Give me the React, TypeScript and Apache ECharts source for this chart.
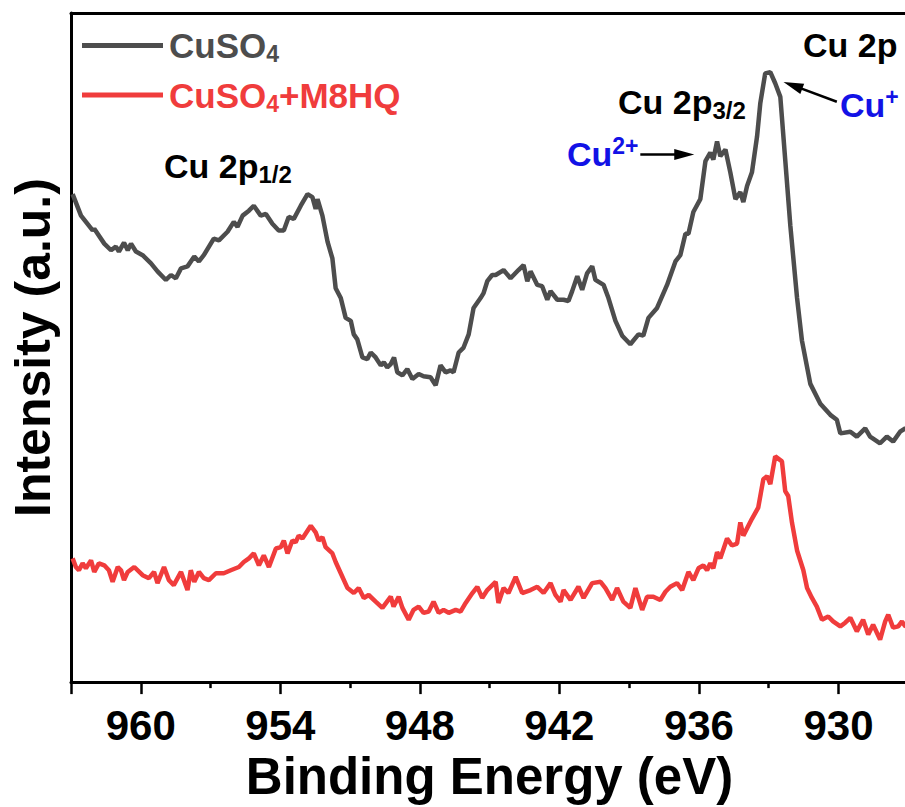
import React, { useEffect, useRef } from "react";
import * as echarts from "echarts";

// Cu 2p XPS spectra: [binding energy (eV), intensity (a.u.)]
const cuso4: [number, number][] = [
  [962.93, 4930], [962.57, 4713], [962.07, 4563], [962.0, 4580], [961.57, 4430], [961.28, 4363],
  [961.07, 4400], [960.94, 4350], [960.72, 4440], [960.56, 4363], [960.42, 4430], [960.21, 4350],
  [959.92, 4313], [959.56, 4230], [959.28, 4150], [958.92, 4063], [958.7, 4113], [958.49, 4080],
  [958.27, 4180], [957.99, 4200], [957.7, 4300], [957.5, 4250], [957.29, 4313], [956.86, 4480],
  [956.64, 4463], [956.27, 4550], [956.0, 4650], [955.84, 4600], [955.62, 4713], [955.35, 4763],
  [955.14, 4813], [954.84, 4713], [954.62, 4730], [954.34, 4630], [954.07, 4563], [953.85, 4563],
  [953.64, 4700], [953.42, 4680], [953.12, 4813], [952.83, 4930], [952.62, 4900], [952.48, 4780],
  [952.4, 4880], [952.19, 4713], [951.97, 4450], [951.76, 4280], [951.62, 3980], [951.4, 3880],
  [951.19, 3680], [950.97, 3650], [950.84, 3513], [950.69, 3463], [950.47, 3280], [950.26, 3263],
  [950.11, 3330], [949.9, 3280], [949.68, 3200], [949.55, 3230], [949.4, 3180], [949.25, 3213],
  [949.11, 3280], [948.97, 3130], [948.75, 3100], [948.54, 3163], [948.32, 3063], [948.05, 3113],
  [947.84, 3090], [947.54, 3080], [947.32, 3000], [947.11, 3200], [946.89, 3130], [946.68, 3150],
  [946.55, 3130], [946.33, 3330], [946.12, 3380], [945.9, 3513], [945.69, 3780], [945.39, 3880],
  [945.26, 3930], [945.1, 4050], [944.89, 4113], [944.74, 4113], [944.4, 4163], [944.1, 4080],
  [943.76, 4163], [943.54, 4213], [943.38, 4050], [943.24, 4150], [942.95, 4013], [942.74, 4000],
  [942.52, 3863], [942.38, 3950], [942.09, 3863], [941.82, 3863], [941.61, 3850], [941.45, 3950],
  [941.23, 4100], [941.02, 3963], [940.81, 4130], [940.59, 4200], [940.45, 4063], [940.1, 4013],
  [939.89, 3880], [939.59, 3650], [939.3, 3500], [938.95, 3413], [938.6, 3513], [938.39, 3500],
  [938.17, 3680], [937.8, 3780], [937.37, 4013], [937.01, 4250], [936.8, 4313], [936.58, 4530],
  [936.45, 4530], [936.24, 4750], [935.94, 4880], [935.72, 5263], [935.51, 5350], [935.38, 5280],
  [935.22, 5463], [935.08, 5313], [934.86, 5380], [934.65, 5150], [934.43, 4880], [934.22, 4950],
  [934.09, 4850], [933.93, 5013], [933.72, 5150], [933.5, 5513], [933.36, 5850], [933.15, 6150],
  [932.93, 6163], [932.72, 6050], [932.5, 5913], [932.29, 5280], [932.07, 4613], [931.78, 3880],
  [931.57, 3450], [931.21, 3013], [930.78, 2813], [930.35, 2700], [930.07, 2650], [929.92, 2513],
  [929.49, 2530], [929.21, 2480], [928.85, 2563], [928.64, 2480], [928.21, 2413], [927.92, 2480],
  [927.65, 2430], [927.35, 2530], [927.13, 2563], [926.8, 2540], [926.4, 2500],
];

const cuso4M8hq: [number, number][] = [
  [962.93, 1250], [962.79, 1163], [962.66, 1130], [962.5, 1200], [962.36, 1150], [962.14, 1230],
  [962.0, 1113], [961.8, 1200], [961.57, 1180], [961.37, 1130], [961.21, 1013], [960.99, 1163],
  [960.85, 1130], [960.72, 1030], [960.56, 1113], [960.28, 1163], [959.92, 1080], [959.65, 1050],
  [959.43, 1113], [959.28, 1000], [959.0, 1163], [958.79, 1030], [958.58, 980], [958.27, 1113],
  [957.99, 930], [957.85, 1130], [957.7, 1013], [957.5, 1113], [957.29, 1050], [957.07, 1030],
  [956.77, 1100], [956.43, 1100], [956.13, 1130], [955.78, 1163], [955.57, 1213], [955.35, 1250],
  [955.14, 1300], [954.92, 1180], [954.71, 1280], [954.49, 1163], [954.19, 1350], [953.98, 1363],
  [953.85, 1430], [953.69, 1300], [953.48, 1430], [953.34, 1413], [953.21, 1480], [953.05, 1450],
  [952.69, 1580], [952.48, 1513], [952.35, 1430], [952.19, 1463], [952.05, 1363], [951.76, 1300],
  [951.62, 1213], [951.4, 1100], [951.11, 950], [950.84, 900], [950.63, 950], [950.41, 850],
  [950.2, 880], [949.9, 813], [949.61, 750], [949.25, 863], [949.13, 763], [948.91, 863],
  [948.75, 750], [948.48, 630], [948.27, 730], [948.05, 763], [947.84, 700], [947.62, 713],
  [947.41, 813], [947.19, 700], [946.98, 730], [946.76, 700], [946.46, 730], [946.25, 713],
  [946.03, 800], [945.74, 900], [945.53, 963], [945.32, 850], [945.1, 930], [944.74, 1013],
  [944.62, 800], [944.4, 950], [944.19, 900], [943.88, 1063], [943.6, 900], [943.24, 930],
  [942.95, 963], [942.68, 900], [942.38, 1000], [942.17, 880], [941.95, 813], [941.82, 930],
  [941.52, 830], [941.18, 963], [940.96, 850], [940.59, 1000], [940.23, 1013], [940.02, 950],
  [939.73, 830], [939.52, 950], [939.25, 813], [938.95, 750], [938.73, 950], [938.44, 730],
  [938.23, 863], [937.96, 863], [937.66, 830], [937.44, 913], [937.23, 963], [936.94, 1000],
  [936.72, 930], [936.45, 1113], [936.24, 1030], [936.02, 1150], [935.81, 1180], [935.65, 1130],
  [935.51, 1200], [935.38, 1150], [935.22, 1313], [935.08, 1250], [934.79, 1450], [934.58, 1380],
  [934.36, 1400], [934.22, 1613], [934.09, 1480], [933.72, 1650], [933.45, 1763], [933.23, 2050],
  [933.07, 2080], [932.93, 2000], [932.72, 2280], [932.43, 2230], [932.29, 1930], [932.16, 1880],
  [932.0, 1613], [931.78, 1330], [931.51, 1130], [931.35, 950], [931.14, 850], [930.93, 763],
  [930.71, 630], [930.44, 663], [930.23, 613], [929.92, 563], [929.71, 600], [929.49, 650],
  [929.21, 513], [928.94, 630], [928.72, 480], [928.51, 580], [928.21, 430], [927.99, 613],
  [927.86, 680], [927.65, 550], [927.43, 563], [927.27, 613], [927.13, 563], [926.8, 590],
  [926.4, 560],
];

// Arrows pointing at the Cu2+ and Cu+ components: [from, to] in (eV, a.u.)
const cu2Arrow: [number, number][] = [[938.52, 5330], [936.63, 5330]];
const cu1Arrow: [number, number][] = [[930.07, 5863], [931.96, 6028]];

const BE_MIN = 924;
const BE_MAX = 963;
const BE_STEP = 6;
const INT_MAX = 6760;

const SERIES_NAMES = ["CuSO4", "CuSO4+M8HQ"];
const COLORS = ["#4d4d4d", "#f03c3c"];
const BLUE = "#1212e6";
const FONT = "'Liberation Sans', Arial, Helvetica, sans-serif";

const subRich = (color: string, size: number, subSize: number, lh: number, subLh: number) => ({
  m: { fontSize: size, fontWeight: "bold", fontFamily: FONT, fill: color, lineHeight: lh, verticalAlign: "middle" },
  s: { fontSize: subSize, fontWeight: "bold", fontFamily: FONT, fill: color, lineHeight: subLh, verticalAlign: "bottom" },
});

const supRich = (color: string, size: number, supSize: number, lh: number, supLh: number) => ({
  m: { fontSize: size, fontWeight: "bold", fontFamily: FONT, fill: color, lineHeight: lh, verticalAlign: "middle" },
  s: { fontSize: supSize, fontWeight: "bold", fontFamily: FONT, fill: color, lineHeight: supLh, verticalAlign: "top" },
});

const legendRich = (color: string) => ({
  fontSize: 35,
  fontWeight: "bold",
  fontFamily: FONT,
  color,
  lineHeight: 40,
  verticalAlign: "middle",
});

const legendSubRich = (color: string) => ({
  fontSize: 23,
  fontWeight: "bold",
  fontFamily: FONT,
  color,
  lineHeight: 12,
  verticalAlign: "bottom",
});

export default function App() {
  const ref = useRef<HTMLDivElement>(null);

  useEffect(() => {
    if (!ref.current) return;
    const chart = echarts.init(ref.current, undefined, { renderer: "svg" });

    const axisLine = { show: true, onZero: false, lineStyle: { color: "#000", width: 3 } };

    chart.setOption({
      animation: false,
      backgroundColor: "#ffffff",
      grid: { left: 70, top: 13, width: 908, height: 676 },
      legend: {
        orient: "vertical",
        left: 82,
        top: 28,
        padding: 0,
        itemWidth: 81,
        itemHeight: 5,
        itemGap: 12,
        icon: "rect",
        data: SERIES_NAMES,
        formatter: (name: string) =>
          name === SERIES_NAMES[0] ? "{g|CuSO}{gs|4}" : "{r|CuSO}{rs|4}{r|+M8HQ}",
        textStyle: {
          padding: [0, 0, 0, 1],
          rich: {
            g: legendRich(COLORS[0]),
            gs: legendSubRich(COLORS[0]),
            r: legendRich(COLORS[1]),
            rs: legendSubRich(COLORS[1]),
          },
        },
      },
      xAxis: [
        {
          type: "value",
          min: BE_MIN,
          max: BE_MAX,
          interval: BE_STEP,
          inverse: true,
          position: "bottom",
          axisLine,
          axisTick: { show: true, length: 12, lineStyle: { color: "#000", width: 2.5 } },
          minorTick: { show: true, splitNumber: 2, length: 6, lineStyle: { color: "#000", width: 2.5 } },
          splitLine: { show: false },
          axisLabel: {
            margin: 22,
            color: "#000",
            fontSize: 42,
            fontWeight: "bold",
            fontFamily: FONT,
            showMinLabel: false,
            showMaxLabel: false,
          },
          name: "Binding Energy (eV)",
          nameLocation: "middle",
          nameGap: 65,
          nameTextStyle: {
            fontSize: 51,
            fontWeight: "bold",
            color: "#000",
            fontFamily: FONT,
            padding: [0, 70, 0, 0],
          },
        },
        {
          type: "value",
          min: BE_MIN,
          max: BE_MAX,
          inverse: true,
          position: "top",
          axisLine,
          axisTick: { show: false },
          axisLabel: { show: false },
          splitLine: { show: false },
        },
      ],
      yAxis: {
        type: "value",
        min: 0,
        max: INT_MAX,
        axisLine,
        axisTick: { show: false },
        axisLabel: { show: false },
        splitLine: { show: false },
        name: "Intensity (a.u.)",
        nameLocation: "middle",
        nameGap: 13,
        nameTextStyle: { fontSize: 50, fontWeight: "bold", color: "#000", fontFamily: FONT },
      },
      series: [
        {
          name: SERIES_NAMES[0],
          type: "line",
          data: cuso4,
          showSymbol: false,
          color: COLORS[0],
          lineStyle: { color: COLORS[0], width: 4.5 },
          z: 3,
          markLine: {
            silent: true,
            symbol: ["none", "triangle"],
            symbolSize: [11, 20],
            label: { show: false },
            lineStyle: { color: "#000", width: 2.5, type: "solid" },
            data: [
              [{ coord: cu2Arrow[0] }, { coord: cu2Arrow[1] }],
              [{ coord: cu1Arrow[0] }, { coord: cu1Arrow[1] }],
            ],
          },
        },
        {
          name: SERIES_NAMES[1],
          type: "line",
          data: cuso4M8hq,
          showSymbol: false,
          color: COLORS[1],
          lineStyle: { color: COLORS[1], width: 4.5 },
          z: 2,
        },
      ],
      graphic: [
        {
          type: "text",
          x: 164,
          y: 146,
          style: { text: "{m|Cu 2p}{s|1/2}", rich: subRich("#000", 34, 24, 40, 18), verticalAlign: "top" },
        },
        {
          type: "text",
          x: 618,
          y: 82,
          style: { text: "{m|Cu 2p}{s|3/2}", rich: subRich("#000", 34, 24, 40, 18), verticalAlign: "top" },
        },
        {
          type: "text",
          x: 803,
          y: 25,
          style: { text: "{m|Cu 2p}", rich: subRich("#000", 34, 24, 40, 18), verticalAlign: "top" },
        },
        {
          type: "text",
          x: 567,
          y: 134,
          style: { text: "{m|Cu}{s|2+}", rich: supRich(BLUE, 34, 23, 40, 20), verticalAlign: "top" },
        },
        {
          type: "text",
          x: 840,
          y: 85,
          style: { text: "{m|Cu}{s|+}", rich: supRich(BLUE, 34, 23, 40, 20), verticalAlign: "top" },
        },
      ],
    });

    return () => chart.dispose();
  }, []);

  return (
    <div
      style={{
        position: "fixed",
        left: 0,
        top: 0,
        width: 905,
        height: 807,
        overflow: "hidden",
        background: "#fff",
      }}
    >
      <div ref={ref} style={{ width: 1000, height: 807 }} />
    </div>
  );
}
